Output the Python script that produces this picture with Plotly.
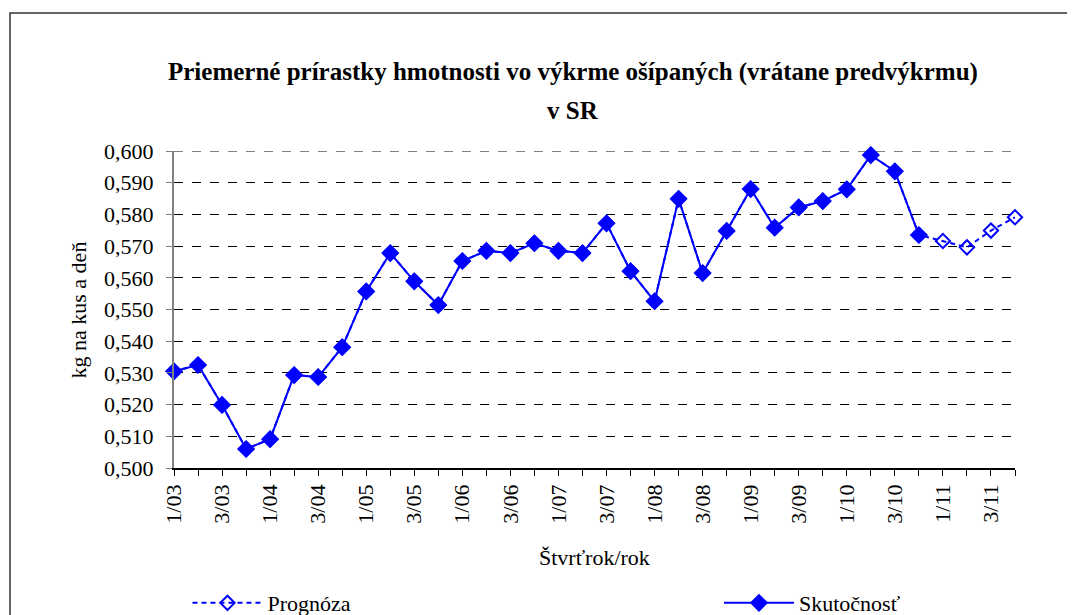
import plotly.graph_objects as go

# quarters 1/03 .. 4/11
quarters = [f"{q}/{y:02d}" for y in range(3, 12) for q in range(1, 5)]
tick_labels = [lab if i % 2 == 0 else "" for i, lab in enumerate(quarters)]

skutocnost = [0.5305, 0.5325, 0.5199, 0.5060, 0.5091, 0.5293, 0.5287, 0.5381,
              0.5557, 0.5678, 0.5589, 0.5514, 0.5653, 0.5685, 0.5678, 0.5709,
              0.5685, 0.5678, 0.5772, 0.5621, 0.5526, 0.5849, 0.5615, 0.5748,
              0.5880, 0.5758, 0.5822, 0.5842, 0.5879, 0.5987, 0.5936, 0.5735]

prognoza = skutocnost + [0.5716, 0.5696, 0.5749, 0.5791]

x = list(range(len(quarters)))
blue = "#0000FF"
font = "Times New Roman, Liberation Serif, serif"

fig = go.Figure()
fig.add_trace(go.Scatter(
    x=x[:len(prognoza)], y=prognoza, name="Prognóza", mode="lines+markers",
    line=dict(color=blue, width=2, dash="5px,4px"),
    marker=dict(symbol="diamond-open", size=11, color=blue, line=dict(width=2, color=blue)),
    cliponaxis=False, legend="legend"))
fig.add_trace(go.Scatter(
    x=x[:len(skutocnost)], y=skutocnost, name="Skutočnosť", mode="lines+markers",
    line=dict(color=blue, width=2),
    marker=dict(symbol="diamond", size=14, color=blue),
    cliponaxis=False, legend="legend2"))

fig.update_layout(
    width=1075, height=615,
    margin=dict(l=166, r=68, t=143, b=155, autoexpand=False),
    paper_bgcolor="white", plot_bgcolor="white",
    separators=", ",
    font=dict(family=font, size=22, color="black"),
    showlegend=True,
    legend=dict(x=0.016, y=-0.426, xanchor="left", yanchor="middle",
                orientation="h", itemwidth=70, font=dict(family=font, size=22),
                bgcolor="rgba(0,0,0,0)"),
    legend2=dict(x=0.648, y=-0.426, xanchor="left", yanchor="middle",
                 orientation="h", itemwidth=70, font=dict(family=font, size=22),
                 bgcolor="rgba(0,0,0,0)"),
    xaxis=dict(range=[0, len(quarters) - 1], tickvals=x, ticktext=tick_labels,
               tickangle=-90, ticks="outside", ticklen=6, tickcolor="black",
               showline=True, linecolor="black", linewidth=1.5,
               showgrid=False, zeroline=False, tickfont=dict(family=font, size=22)),
    yaxis=dict(range=[0.5, 0.6], dtick=0.01, tick0=0.5, tickformat=".3f",
               ticks="outside", ticklen=6, tickcolor="#808080",
               ticklabelstandoff=8,
               showline=True, linecolor="#808080", linewidth=2,
               showgrid=True, gridcolor="black", gridwidth=1, griddash="dash",
               zeroline=False, tickfont=dict(family=font, size=22)),
    annotations=[
        dict(text="<b>Priemerné prírastky hmotnosti vo výkrme ošípaných (vrátane predvýkrmu)</b>",
             xref="paper", yref="paper", x=0.474, y=1.249, xanchor="center", yanchor="middle",
             showarrow=False, font=dict(family=font, size=25)),
        dict(text="<b>v SR</b>", xref="paper", yref="paper", x=0.474, y=1.129,
             xanchor="center", yanchor="middle", showarrow=False, font=dict(family=font, size=25)),
        dict(text="kg na kus a deň", xref="paper", yref="paper", x=-0.113, y=0.5,
             textangle=-90, xanchor="center", yanchor="middle", showarrow=False,
             font=dict(family=font, size=22)),
        dict(text="Štvrťrok/rok", xref="paper", yref="paper", x=0.5, y=-0.281,
             xanchor="center", yanchor="middle", showarrow=False, font=dict(family=font, size=22)),
    ],
    shapes=[
        dict(type="line", xref="paper", yref="y", x0=0, x1=1, y0=0.6, y1=0.6,
             line=dict(color="black", width=1, dash="dash"), layer="below"),
        dict(type="rect", xref="paper", yref="paper", x0=-0.195, y0=-1.0,
             x1=1.3, y1=1.435, line=dict(color="#333333", width=1.5)),
    ],
)

fig.write_html("out.html")
